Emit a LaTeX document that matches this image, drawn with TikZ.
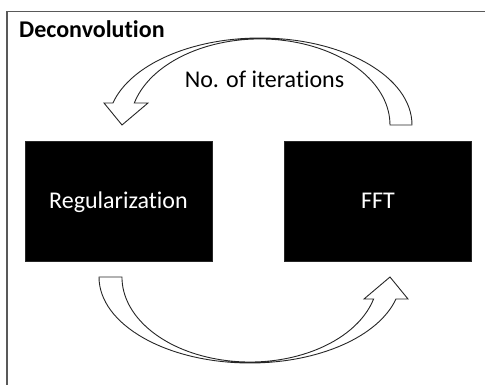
\documentclass[tikz,border=0pt]{standalone}
\usepackage{fontspec}
\setmainfont{Carlito}[Ligatures={NoCommon}]
\begin{document}
\begin{tikzpicture}[x=1pt,y=-1pt,
  box/.style={fill=black, draw=black!85, minimum width=187pt, minimum height=120pt,
    inner sep=0pt, text=white, text height=16pt, text depth=0pt,
    font=\fontsize{24}{28}\selectfont},
  blockarrow/.style={draw=black!85, fill=white, line width=0.9pt, line join=miter},
  lbl/.style={font=\fontsize{24}{28}\selectfont, inner sep=0pt},
  frame/.style={draw=black!65, line width=1.6pt}]
\useasboundingbox (0,0) rectangle (485,385);
% frame (cropped at right and bottom)
\coordinate (fbl) at (7,385);
\coordinate (ftl) at (7,11.5);
\coordinate (ftr) at (485,11.5);
\draw[frame] (fbl) -- (ftl) -- (ftr);
% title
\node[lbl, anchor=base west] (title) at (19,38) {\bfseries Deconvolution};
% boxes
\node[box] (reg) at (118.5,201) {Regularization};
\node[box] (fft) at (378,201) {FFT};
% top curved arrow (FFT -> Regularization)
\draw[blockarrow] (412,125) arc[start angle=0, end angle=-165.35, x radius=152, y radius=87]
  -- (104,103) -- (122,125) -- (148,103) -- (134.3,103)
  arc[start angle=-165.2, end angle=0, x radius=130, y radius=86] -- cycle;
% bottom curved arrow (Regularization -> FFT)
\draw[blockarrow] (99,277) arc[start angle=180, end angle=14.8, x radius=151, y radius=86]
  -- (408,299) -- (390,277) -- (364,299) -- (373.6,299)
  arc[start angle=15, end angle=180, x radius=128, y radius=85] -- cycle;
% label
\node[lbl, anchor=base] (iter) at (264.5,88) {No. of iterations};
\end{tikzpicture}
\end{document}
